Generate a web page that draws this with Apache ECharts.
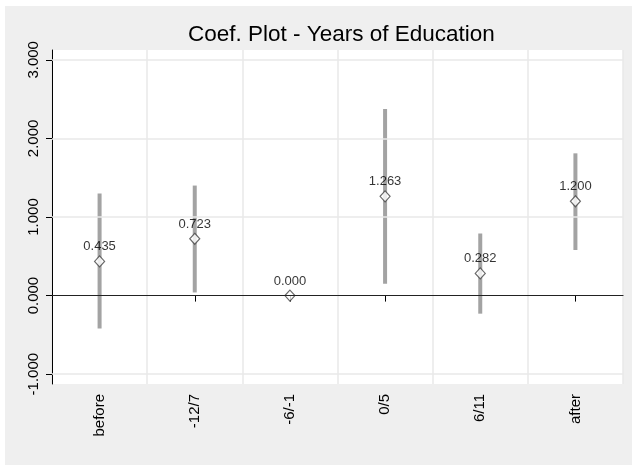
<!DOCTYPE html>
<html>
<head>
<meta charset="utf-8">
<script src="https://cdn.jsdelivr.net/npm/echarts@6/dist/echarts.min.js"></script>
<style>
html,body{margin:0;padding:0;background:#fff;width:632px;height:465px;overflow:hidden;}
#chart{position:absolute;left:5px;top:6px;width:627px;height:459px;}
</style>
</head>
<body>
<div id="chart"></div>
<script>
var categories = ['before', '-12/7', '-6/-1', '0/5', '6/11', 'after'];
var coef = [0.435, 0.723, 0.000, 1.263, 0.282, 1.200];
var ciLow = [-0.42, 0.04, null, 0.15, -0.23, 0.58];
var ciHigh = [1.30, 1.40, null, 2.375, 0.79, 1.81];
var yTicks = [-1, 0, 1, 2, 3];
var yMin = -1.125, yMax = 3.125;

var FONT = '"Liberation Sans", Arial, Helvetica, sans-serif';

var ciData = categories.map(function (c, i) { return [i, ciLow[i], ciHigh[i]]; });
var pointData = categories.map(function (c, i) { return [i, coef[i]]; });

var gridLines = yTicks.filter(function (v) { return v !== 0; }).map(function (v) { return { yAxis: v }; });

var chart = echarts.init(document.getElementById('chart'), null, { renderer: 'canvas' });
chart.setOption({
  backgroundColor: '#efefef',
  animation: false,
  textStyle: { fontFamily: FONT },
  title: {
    text: 'Coef. Plot - Years of Education',
    left: 178,
    top: 12,
    textStyle: { fontFamily: FONT, fontSize: 22.5, fontWeight: 'normal', color: '#000' }
  },
  grid: {
    left: 47, top: 44, right: 9, bottom: 81,
    show: true, backgroundColor: '#ffffff', borderWidth: 0
  },
  xAxis: {
    type: 'category',
    data: categories,
    boundaryGap: true,
    axisLine: { show: true, lineStyle: { color: '#000', width: 1 } },
    axisTick: { show: true, alignWithLabel: true, length: 6, lineStyle: { color: '#000' } },
    axisLabel: { rotate: 90, fontSize: 15, margin: 10, color: '#000', fontFamily: FONT },
    splitLine: { show: true, lineStyle: { color: '#e8e8e8', width: 1.5 } }
  },
  yAxis: {
    type: 'value',
    min: yMin,
    max: yMax,
    axisLine: { show: true, lineStyle: { color: '#000', width: 1 } },
    axisTick: { show: true, length: 6, customValues: yTicks, lineStyle: { color: '#000' } },
    axisLabel: {
      customValues: yTicks,
      rotate: 90, fontSize: 15, margin: 11, color: '#000', fontFamily: FONT,
      formatter: function (v) { return v.toFixed(3); }
    },
    splitLine: { show: false }
  },
  series: [
    {
      type: 'line',
      data: [],
      z: 1,
      silent: true,
      markLine: {
        silent: true,
        symbol: 'none',
        label: { show: false },
        lineStyle: { color: '#e8e8e8', width: 1.5, type: 'solid' },
        data: gridLines
      }
    },
    {
      type: 'line',
      data: [],
      z: 2,
      silent: true,
      markLine: {
        silent: true,
        symbol: 'none',
        label: { show: false },
        lineStyle: { color: '#222', width: 1, type: 'solid' },
        data: [{ yAxis: 0 }]
      }
    },
    {
      type: 'custom',
      z: 3,
      data: ciData,
      renderItem: function (params, api) {
        var lo = api.value(1), hi = api.value(2);
        if (lo == null || hi == null || isNaN(lo) || isNaN(hi)) return null;
        var p1 = api.coord([api.value(0), hi]);
        var p2 = api.coord([api.value(0), lo]);
        return {
          type: 'rect',
          shape: { x: p1[0] - 2, y: p1[1], width: 4, height: p2[1] - p1[1] },
          style: { fill: '#a3a3a3' }
        };
      }
    },
    {
      type: 'scatter',
      z: 4,
      data: pointData,
      symbol: 'diamond',
      symbolSize: [10, 11],
      itemStyle: { color: '#ffffff', borderColor: '#444', borderWidth: 1.2 },
      label: {
        show: true,
        position: 'top',
        distance: 2,
        fontSize: 13,
        color: '#000',
        fontFamily: FONT,
        formatter: function (p) { return p.value[1].toFixed(3); }
      }
    }
  ]
});
</script>
</body>
</html>
